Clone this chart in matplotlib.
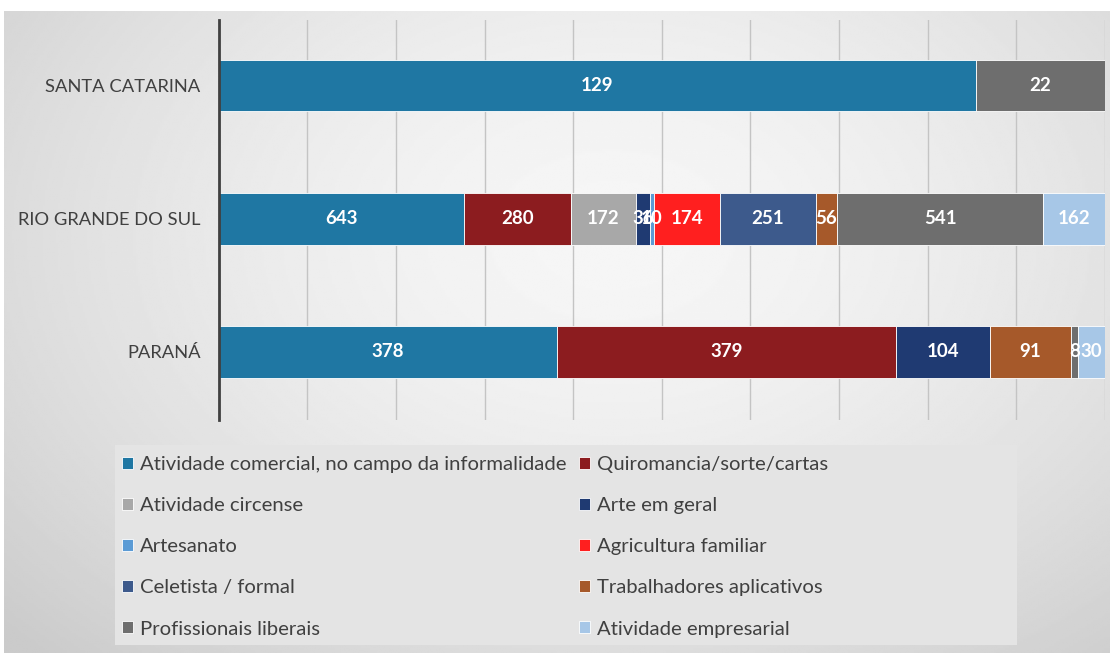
import numpy as np
import matplotlib.pyplot as plt
from matplotlib.patches import Rectangle

# dados
estados = ["PARANÁ", "RIO GRANDE DO SUL", "SANTA CATARINA"]
series = [
    "Atividade comercial, no campo da informalidade",
    "Quiromancia/sorte/cartas",
    "Atividade circense",
    "Arte em geral",
    "Artesanato",
    "Agricultura familiar",
    "Celetista / formal",
    "Trabalhadores aplicativos",
    "Profissionais liberais",
    "Atividade empresarial",
]
# valores por série: [PR, RS, SC]
comercial = [378, 643, 129]
quiromancia = [379, 280, 0]
circense = [0, 172, 0]
arte = [104, 36, 0]
artesanato = [0, 10, 0]
agricultura = [0, 174, 0]
celetista = [0, 251, 0]
aplicativos = [91, 56, 0]
liberais = [8, 541, 22]
empresarial = [30, 162, 0]

valores = [comercial, quiromancia, circense, arte, artesanato,
           agricultura, celetista, aplicativos, liberais, empresarial]
cores = ["#1f77a3", "#8c1c1f", "#a8a8a8", "#1f3a72", "#5b9bd5",
         "#ff1f1f", "#3d5a8c", "#a6592a", "#6e6e6e", "#a7c7e7"]

fig = plt.figure(figsize=(11.1, 6.53), dpi=100)
fig.patch.set_facecolor("white")
plt.rcParams["font.family"] = ["Lato", "DejaVu Sans"]

# fundo em degradê
bg = fig.add_axes([0.004, 0, 0.996, 0.983], zorder=-2)
yy, xx = np.mgrid[0:1:300j, 0:1:500j]
d = np.sqrt(((xx - 0.55) / 0.75) ** 2 + ((yy - 0.35) / 0.9) ** 2)
img = 0.965 - 0.17 * np.clip(d, 0, 1) ** 1.6
bg.imshow(img, cmap="gray", vmin=0, vmax=1, aspect="auto", origin="upper")
bg.axis("off")
# caixa da legenda
fig.add_artist(Rectangle((115 / 1110, 1 - 645 / 653), 902 / 1110, 200 / 653,
                         transform=fig.transFigure, facecolor="#e4e4e4",
                         edgecolor="none", zorder=-1))

ax = fig.add_axes([0.197, 0.357, 0.7985, 0.612])
ax.patch.set_alpha(0)

totais = np.sum(np.array(valores), axis=0)
y = np.arange(len(estados))
esquerda = np.zeros(len(estados))
handles = []
for nome, v, c in zip(series, valores, cores):
    pct = np.array(v) / totais * 100
    barras = ax.barh(y, pct, left=esquerda, height=0.39, color=c,
                     edgecolor="white", linewidth=0.6, label=nome, zorder=3)
    handles.append(barras)
    rotulos = [str(x) if x > 0 else "" for x in v]
    ax.bar_label(barras, labels=rotulos, label_type="center", color="white",
                 fontsize=13.5, fontweight="bold", zorder=4)
    esquerda += pct

ax.set_xlim(0, 100)
ax.set_ylim(-0.51, 2.49)
ax.set_yticks(y)
ax.set_yticklabels(estados, fontsize=13.2, color="#404040")
ax.tick_params(axis="y", length=0, pad=13)
ax.set_xticks(np.arange(0, 101, 10))
ax.tick_params(axis="x", length=0, labelbottom=False)
ax.grid(axis="x", color="#c4c4c4", linewidth=1, zorder=0)
for s in ["top", "right", "bottom"]:
    ax.spines[s].set_visible(False)
ax.spines["left"].set_color("#404040")
ax.spines["left"].set_linewidth(2)
ax.spines["left"].set_zorder(5)

# ordem por linhas (como no original)
ordem = [0, 2, 4, 6, 8, 1, 3, 5, 7, 9]
leg = fig.legend([handles[i] for i in ordem], [series[i] for i in ordem],
                 loc="upper left", bbox_to_anchor=(122 / 1110, 1 - 456 / 653),
                 ncol=2, fontsize=14.6, frameon=False,
                 handlelength=0.55, handleheight=0.55, handletextpad=0.35,
                 columnspacing=0.6, labelspacing=1.19, borderpad=0,
                 borderaxespad=0, labelcolor="#404040")

fig.savefig("out.png", dpi=100, facecolor=fig.get_facecolor())
